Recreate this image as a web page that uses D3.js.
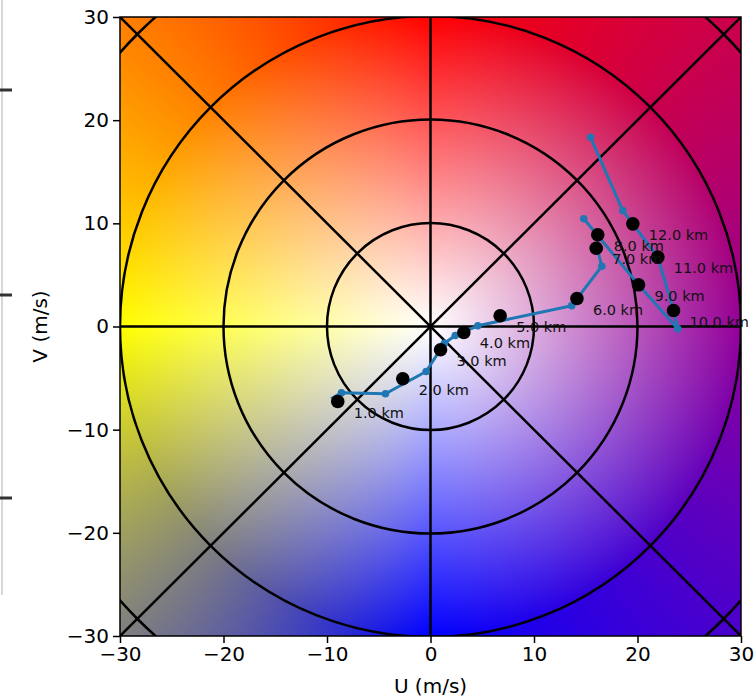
<!DOCTYPE html>
<html>
<head>
<meta charset="utf-8">
<script src="https://d3js.org/d3.v7.min.js"></script>
<style>
  body { margin: 0; background: white; }
  text { font-family: 'DejaVu Sans', sans-serif; }
</style>
</head>
<body>
<svg id="chart" width="756" height="698"></svg>
<script>
// hodograph trace (u, v in m/s), every level that has a marker
var traceU = [-9.6, -8.6, -4.35, -0.42, 1.35, 2.39, 4.57, 13.64, 16.55, 16.1, 16.2, 14.81, 20.1, 23.89, 23.5, 21.96, 19.55, 18.58, 15.46];
var traceV = [-7.0, -6.42, -6.52, -4.36, -1.62, -0.87, 0.07, 2.02, 5.84, 7.6, 8.8, 10.44, 4.05, -0.22, 1.5, 6.72, 9.95, 11.24, 18.34];
// which trace points carry a small marker
var traceMarker = [false, true, true, true, true, true, true, true, true, false, false, true, false, true, false, false, false, true, true];

// height labels (km)
var kmHeights = [1, 2, 3, 4, 5, 6, 7, 8, 9, 10, 11, 12];
var kmU = [-8.96, -2.68, 0.97, 3.22, 6.73, 14.15, 16.01, 16.16, 20.10, 23.48, 21.96, 19.55];
var kmV = [-7.27, -5.07, -2.26, -0.58, 1.04, 2.71, 7.59, 8.89, 4.04, 1.55, 6.72, 9.95];

var ringRadii = [10, 20, 30, 40];
var spokeAngles = [0, 45, 90, 135];
var tickValues = [-30, -20, -10, 0, 10, 20, 30];

var svg = d3.select("#chart");
var x = d3.scaleLinear().domain([-30, 30]).range([120, 741]);
var y = d3.scaleLinear().domain([-30, 30]).range([636, 17]);

// leftover edge of the neighbouring panel
svg.append("line").attr("x1", 2).attr("x2", 2).attr("y1", 0).attr("y2", 595)
  .attr("stroke", "#d8d8d8").attr("stroke-width", 2);
[90, 295, 498].forEach(function(t) {
  svg.append("line").attr("x1", 0).attr("x2", 12).attr("y1", t).attr("y2", t)
    .attr("stroke", "#333").attr("stroke-width", 3);
});

// background colour field: hue by direction, whiteness by speed
var anchors = [[255, 0, 0], [148, 0, 152], [0, 0, 255], [255, 255, 0], [255, 0, 0]];
function fieldColor(u, v) {
  var ang = Math.atan2(u, v) * 180 / Math.PI;
  if (ang < 0) ang += 360;
  var seg = Math.floor(ang / 90), f = (ang - seg * 90) / 90;
  var a = anchors[seg], b = anchors[seg + 1];
  var t = Math.min(Math.sqrt(u * u + v * v) / 30, 1);
  return [0, 1, 2].map(function(k) {
    var c = a[k] + (b[k] - a[k]) * f;
    return Math.round(255 + (c - 255) * t);
  });
}
var w = Math.round(x(30) - x(-30)), h = Math.round(y(-30) - y(30));
var canvas = document.createElement("canvas");
canvas.width = w; canvas.height = h;
var ctx = canvas.getContext("2d");
var img = ctx.createImageData(w, h);
for (var j = 0; j < h; j++) {
  for (var i = 0; i < w; i++) {
    var col = fieldColor(x.invert(x(-30) + i + 0.5), y.invert(y(30) + j + 0.5));
    var p = (j * w + i) * 4;
    img.data[p] = col[0]; img.data[p + 1] = col[1]; img.data[p + 2] = col[2]; img.data[p + 3] = 255;
  }
}
ctx.putImageData(img, 0, 0);

svg.append("clipPath").attr("id", "plotclip").append("rect")
  .attr("x", x(-30)).attr("y", y(30)).attr("width", w).attr("height", h);

svg.append("image").attr("x", x(-30)).attr("y", y(30)).attr("width", w).attr("height", h)
  .attr("preserveAspectRatio", "none")
  .attr("href", canvas.toDataURL());

var plot = svg.append("g").attr("clip-path", "url(#plotclip)");

// rings
plot.selectAll("circle.ring").data(ringRadii).enter().append("circle")
  .attr("class", "ring")
  .attr("cx", x(0)).attr("cy", y(0))
  .attr("r", function(d) { return x(d) - x(0); })
  .attr("fill", "none").attr("stroke", "black").attr("stroke-width", 2.5);

// spokes
plot.selectAll("line.spoke").data(spokeAngles).enter().append("line")
  .attr("class", "spoke")
  .attr("x1", function(d) { return x(-60 * Math.cos(d * Math.PI / 180)); })
  .attr("y1", function(d) { return y(-60 * Math.sin(d * Math.PI / 180)); })
  .attr("x2", function(d) { return x(60 * Math.cos(d * Math.PI / 180)); })
  .attr("y2", function(d) { return y(60 * Math.sin(d * Math.PI / 180)); })
  .attr("stroke", "black").attr("stroke-width", 2.5);

// trace
var trace = traceU.map(function(u, i) { return { u: u, v: traceV[i], m: traceMarker[i] }; });
plot.append("path").datum(trace)
  .attr("d", d3.line().x(function(d) { return x(d.u); }).y(function(d) { return y(d.v); }))
  .attr("fill", "none").attr("stroke", "#1f77b4").attr("stroke-width", 3)
  .attr("stroke-linejoin", "round");
plot.selectAll("circle.mk").data(trace.filter(function(d) { return d.m; })).enter().append("circle")
  .attr("class", "mk")
  .attr("cx", function(d) { return x(d.u); }).attr("cy", function(d) { return y(d.v); })
  .attr("r", 3.8).attr("fill", "#1f77b4");

// height markers and labels
var kms = kmHeights.map(function(k, i) { return { k: k, u: kmU[i], v: kmV[i] }; });
svg.selectAll("circle.km").data(kms).enter().append("circle")
  .attr("class", "km")
  .attr("cx", function(d) { return x(d.u); }).attr("cy", function(d) { return y(d.v); })
  .attr("r", 6.8).attr("fill", "black");
svg.selectAll("text.km").data(kms).enter().append("text")
  .attr("class", "km")
  .attr("x", function(d) { return x(d.u) + 16; })
  .attr("y", function(d) { return y(d.v) + 16; })
  .attr("font-size", 14.5).attr("fill", "#111")
  .text(function(d) { return d.k.toFixed(1) + " km"; });

// frame
svg.append("rect").attr("x", x(-30)).attr("y", y(30)).attr("width", w).attr("height", h)
  .attr("fill", "none").attr("stroke", "black").attr("stroke-width", 1.5);

// axes
var xAxis = svg.append("g").attr("transform", "translate(0," + y(-30) + ")")
  .call(d3.axisBottom(x).tickValues(tickValues).tickSize(7).tickPadding(4));
var yAxis = svg.append("g").attr("transform", "translate(" + x(-30) + ",0)")
  .call(d3.axisLeft(y).tickValues(tickValues).tickSize(7).tickPadding(4));
[xAxis, yAxis].forEach(function(g) {
  g.select(".domain").remove();
  g.selectAll("line").attr("stroke", "black").attr("stroke-width", 1.5);
  g.selectAll("text").attr("font-size", 20).attr("fill", "black")
    .style("font-family", "'DejaVu Sans', sans-serif");
});

svg.append("text").attr("x", x(0)).attr("y", 693).attr("text-anchor", "middle")
  .attr("font-size", 20).text("U (m/s)");
svg.append("text").attr("transform", "translate(47," + y(0) + ") rotate(-90)")
  .attr("text-anchor", "middle").attr("font-size", 20).text("V (m/s)");
</script>
</body>
</html>
